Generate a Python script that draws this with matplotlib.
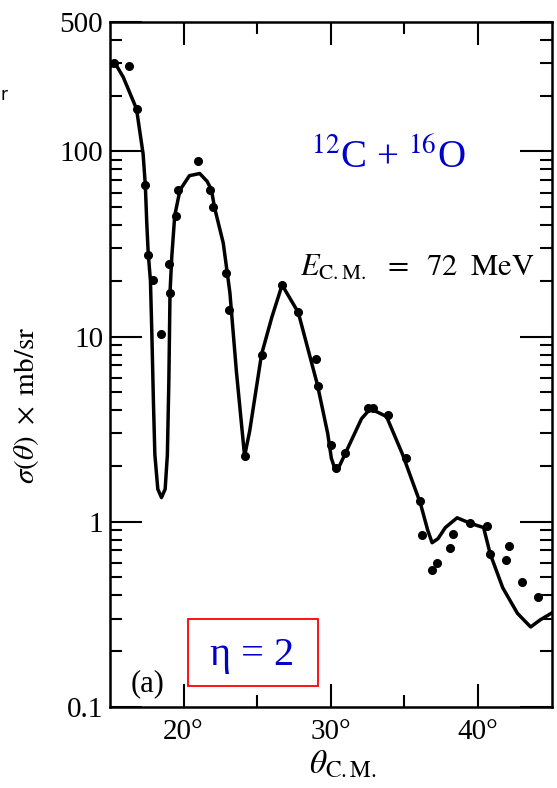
import numpy as np
import matplotlib.pyplot as plt
from matplotlib.patches import Rectangle
from matplotlib.ticker import FixedLocator, NullFormatter, LogLocator

plt.rcParams['font.family'] = ['Liberation Serif', 'DejaVu Serif']
plt.rcParams['mathtext.fontset'] = 'stix'

# optical-model fit (solid curve)
theta_fit = [15.1, 15.3, 15.9, 16.8, 17.25, 17.4, 17.5, 17.6, 17.75, 17.85, 17.95, 18.05,
             18.25, 18.5, 18.75, 18.9, 19.0, 19.08, 19.2, 19.4, 19.76, 20.4, 21.1, 21.6,
             21.9, 22.1, 22.7, 23.15, 23.6, 24.15, 24.5, 25.3, 26.0, 26.7, 27.8, 29.1,
             29.8, 30.05, 30.3, 30.6, 31.0, 32.1, 32.7, 33.8, 34.9, 35.5, 36.1, 36.6,
             36.9, 37.3, 37.8, 38.6, 39.5, 40.4, 40.85, 41.7, 42.7, 43.6, 44.25, 45.0]
sigma_fit = [290, 304, 252, 170, 97, 66, 41, 28, 20, 10, 4.5, 2.3,
             1.5, 1.35, 1.5, 2.3, 5.7, 17.3, 27, 45, 62, 74, 76, 69,
             62, 50, 32, 17.3, 6.4, 2.26, 3.1, 8.0, 12.7, 19, 13.5, 5.5,
             3.0, 2.2, 1.92, 2.0, 2.34, 3.6, 4.08, 3.7, 2.3, 1.7, 1.26, 0.9,
             0.77, 0.81, 0.93, 1.05, 0.98, 0.93, 0.67, 0.44, 0.32, 0.27, 0.295, 0.32]

# measured points
theta_exp = [15.3, 16.3, 16.84, 17.4, 17.6, 17.9, 18.5, 19.0, 19.05, 19.5, 19.6,
             21.0, 21.8, 22.0, 22.9, 23.1, 24.2, 25.3, 26.7, 27.8, 29.0, 29.15,
             30.0, 30.35, 31.0, 32.55, 32.9, 33.9, 35.1, 36.1, 36.2, 36.9, 37.2,
             38.1, 38.3, 39.5, 40.6, 40.85, 41.9, 42.1, 43.0, 44.1]
sigma_exp = [300, 290, 170, 66, 27.7, 20.3, 10.3, 24.6, 17.3, 45, 62,
             89, 62, 50, 22, 14, 2.26, 8.0, 19, 13.5, 7.6, 5.4,
             2.6, 1.95, 2.34, 4.13, 4.1, 3.75, 2.2, 1.3, 0.85, 0.55, 0.6,
             0.72, 0.86, 0.98, 0.95, 0.67, 0.62, 0.74, 0.47, 0.39]

x_ticks = [20, 30, 40]
x_ticklabels = ['20°', '30°', '40°']
y_ticks = [0.1, 1, 10, 100, 500]
y_ticklabels = ['0.1', '1', '10', '100', '500']

W, H = 557, 788
fig = plt.figure(figsize=(W / 100, H / 100), dpi=100)
ax = fig.add_axes([0.1975, 0.103, 0.7935, 0.869])

ax.plot(theta_fit, sigma_fit, color='black', lw=2.5, solid_joinstyle='round')
ax.plot(theta_exp, sigma_exp, 'o', color='black', ms=5.5)

ax.set_yscale('log')
ax.set_xlim(15, 45.05)
ax.set_ylim(0.1, 500)

ax.xaxis.set_major_locator(FixedLocator(x_ticks))
ax.xaxis.set_minor_locator(FixedLocator([25, 35]))
ax.set_xticklabels(x_ticklabels)
ax.yaxis.set_major_locator(FixedLocator(y_ticks))
ax.yaxis.set_minor_locator(LogLocator(base=10, subs=np.arange(2, 10)))
ax.yaxis.set_minor_formatter(NullFormatter())
ax.set_yticklabels(y_ticklabels)

ax.tick_params(which='both', direction='in', top=True, right=True, width=1.5, labelsize=21)
ax.tick_params(axis='y', which='major', length=23, pad=5)
ax.tick_params(axis='y', which='minor', length=8.5)
ax.tick_params(axis='x', which='major', length=16.5, pad=9)
ax.tick_params(axis='x', which='minor', length=8.5)
for s in ax.spines.values():
    s.set_linewidth(1.8)

# axis titles placed where the scan has them
fig.text(343 / W, 1 - 765 / H, r'$\theta_{\mathrm{C.M.}}$', fontsize=24,
         ha='center', va='center')
fig.text(27 / W, 1 - 405 / H, r'$\sigma(\theta)\ \times\ \mathrm{mb/sr}$', fontsize=21,
         ha='center', va='center', rotation=90)

fig.text(388 / W, 1 - 157 / H, r'$^{12}$C + $^{16}$O', color='#0000cc',
         fontsize=28, ha='center', va='center')
fig.text(300 / W, 1 - 268 / H, r'$E_{\mathrm{C.M.}}\;\ =\;\ 72\;\ \mathrm{MeV}$',
         fontsize=22, ha='left', va='center')
fig.text(131 / W, 1 - 684 / H, '(a)', fontsize=22, ha='left', va='center')

fig.patches.append(Rectangle((188 / W, 1 - 686 / H), 130 / W, 67 / H, transform=fig.transFigure,
                             facecolor='white', edgecolor='red', lw=1.3, zorder=3))
fig.text(252 / W, 1 - 655 / H, 'η = 2', color='#0000cc', fontsize=29,
         ha='center', va='center', zorder=4)
fig.text(0 / W, 1 - 95 / H, 'r', fontsize=12, family='DejaVu Sans',
         ha='left', va='center')

fig.savefig('out.png', dpi=100)
